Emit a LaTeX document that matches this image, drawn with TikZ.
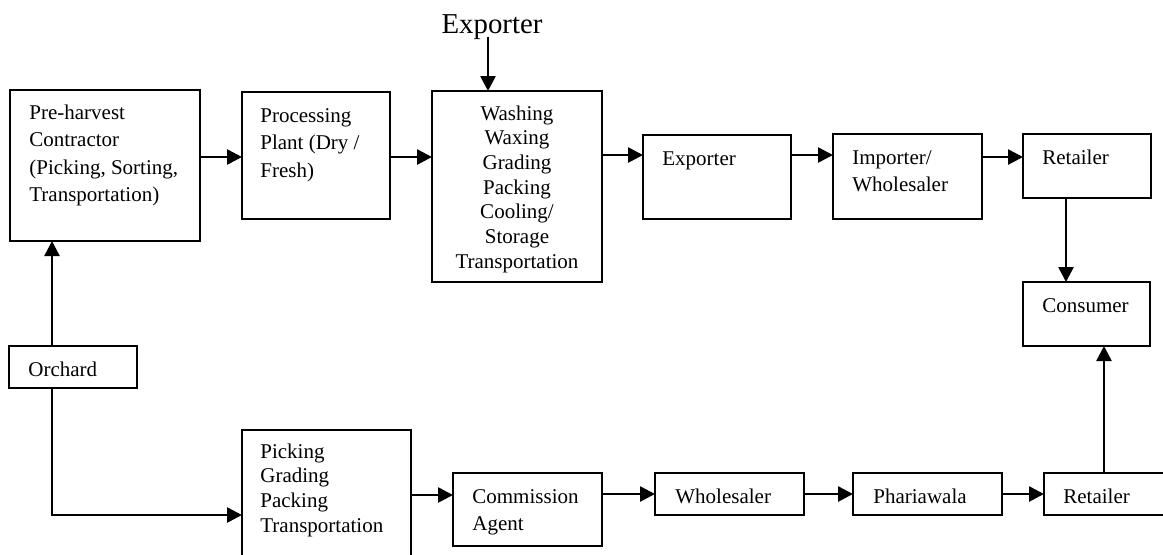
\documentclass[tikz,border=0pt]{standalone}
\usepackage{fontspec}
\setmainfont{Liberation Serif}
\usetikzlibrary{arrows.meta}

\begin{document}
\begin{tikzpicture}[x=0.5pt,y=-0.5pt,
  box/.style 2 args={draw, line width=1pt, rectangle, inner sep=0pt, outer sep=0pt,
    anchor=north west, minimum width=#1*0.5pt, minimum height=#2*0.5pt},
  txt/.style={anchor=base west, inner sep=0pt, font=\fontsize{10.5}{13.8}\selectfont},
  lst/.style={anchor=base west, inner sep=0pt, font=\fontsize{10.5}{12.35}\selectfont},
  arr/.style={line width=1.3pt, -{Triangle[length=7.5pt,width=7.5pt]}},
  wire/.style={line width=1.3pt}]
\useasboundingbox (0,0) rectangle (1163,554);
\clip (0,0) rectangle (1163,554);

% ---- export chain (top row) ----
\node[box={190}{151}] (pre)  at (10,90)  {};
\node[box={148}{127}] (proc) at (242,92) {};
\node[box={170}{191}] (wash) at (432,91) {};
\node[box={148}{84}]  (exp)  at (643,135) {};
\node[box={149}{85}]  (imp)  at (833,134) {};
\node[box={128}{64}]  (ret1) at (1023,134) {};
\node[box={127}{64}]  (cons) at (1023,282) {};

\node[txt] (preT)  at (29,119)  {\parbox[t]{100pt}{\raggedright Pre-harvest\\Contractor\\(Picking, Sorting,\\Transportation)}};
\node[txt] (procT) at (260,122) {\parbox[t]{70pt}{\raggedright Processing\\Plant (Dry /\\Fresh)}};
\node[lst, anchor=base] (washT) at (517,120) {\parbox[t]{80pt}{\centering Washing\\Waxing\\Grading\\Packing\\Cooling/\\Storage\\Transportation}};
\node[txt] (expT)  at (662,165) {Exporter};
\node[txt] (impT)  at (852,164) {\parbox[t]{70pt}{\raggedright Importer/\\Wholesaler}};
\node[txt] (ret1T) at (1042,164) {Retailer};
\node[txt] (consT) at (1042,312) {Consumer};

\node[inner sep=0pt, anchor=base, font=\fontsize{14.4}{17}\selectfont] (expTop) at (492,33) {Exporter};

% ---- domestic chain (bottom row) ----
\node[box={128}{42}]  (orch) at (9,346)   {};
\node[box={169}{140}] (pick) at (242,430) {};
\node[box={149}{73}]  (comm) at (453,473) {};
\node[box={149}{42}]  (whol) at (655,473) {};
\node[box={149}{42}]  (phar) at (853,473) {};
\node[box={140}{42}]  (ret2) at (1044,473) {};

\node[txt] (orchT) at (28,376)  {Orchard};
\node[lst] (pickT) at (260,458) {\parbox[t]{90pt}{\raggedright Picking\\Grading\\Packing\\Transportation}};
\node[txt] (commT) at (472,503) {\parbox[t]{70pt}{\raggedright Commission\\Agent}};
\node[txt] (wholT) at (675,503) {Wholesaler};
\node[txt] (pharT) at (873,503) {Phariawala};
\node[txt] (ret2T) at (1063,503) {Retailer};

% ---- connector guides ----
\coordinate (ya) at (0,157);
\coordinate (yb) at (0,155);
\coordinate (yc) at (0,495);
\coordinate (yd) at (0,494);
\coordinate (xo) at (52,0);
\coordinate (xe) at (488,0);
\coordinate (xr) at (1066,0);
\coordinate (xc) at (1104,0);
\coordinate (bend) at (52,515);

% ---- connectors, top row ----
\draw[arr] (expTop.south -| xe) ++(0,-3) -- (wash.north -| xe);
\draw[arr] (pre.east |- ya)  -- (proc.west |- ya);
\draw[arr] (proc.east |- ya) -- (wash.west |- ya);
\draw[arr] (wash.east |- yb) -- (exp.west |- yb);
\draw[arr] (exp.east |- yb)  -- (imp.west |- yb);
\draw[arr] (imp.east |- ya)  -- (ret1.west |- ya);
\draw[arr] (ret1.south -| xr) -- (cons.north -| xr);

% ---- connectors, orchard and bottom row ----
\draw[arr] (orch.north -| xo) -- (pre.south -| xo);
\draw[arr] (orch.south -| xo) -- (bend) -- (pick.west |- bend);
\draw[arr] (pick.east |- yc) -- (comm.west |- yc);
\draw[arr] (comm.east |- yd) -- (whol.west |- yd);
\draw[arr] (whol.east |- yd) -- (phar.west |- yd);
\draw[arr] (phar.east |- yd) -- (ret2.west |- yd);
\draw[arr] (ret2.north -| xc) -- (cons.south -| xc);
\end{tikzpicture}
\end{document}
